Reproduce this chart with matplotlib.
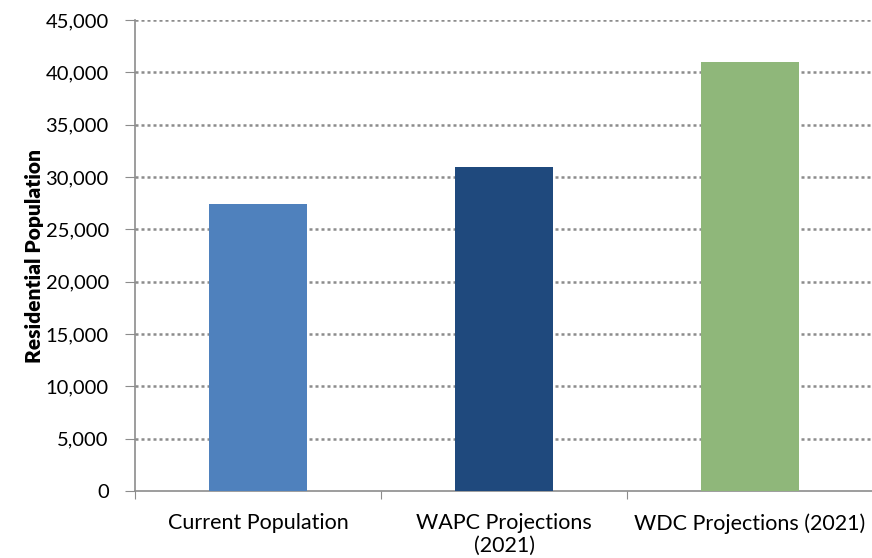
import matplotlib
matplotlib.use("Agg")
import matplotlib.pyplot as plt
from matplotlib.ticker import FuncFormatter, FixedLocator

# Data
categories = ["Current Population", "WAPC Projections\n(2021)", "WDC Projections (2021)"]
population = [27400, 31000, 41000]
bar_colors = ["#4F81BD", "#1F497D", "#8FB77A"]
y_ticks = list(range(0, 45001, 5000))

plt.rcParams["font.family"] = ["Lato", "DejaVu Sans"]

fig = plt.figure(figsize=(8.72, 5.58), dpi=100)
ax = fig.add_axes([0.155, 0.12, 0.846, 0.844])

x = list(range(len(categories)))
ax.bar(x, population, width=0.4, color=bar_colors, zorder=3)

ax.set_xlim(-0.5, len(categories) - 0.5)
ax.set_ylim(0, 45000)

# y axis
ax.yaxis.set_major_locator(FixedLocator(y_ticks))
ax.yaxis.set_major_formatter(FuncFormatter(lambda v, p: f"{int(v):,}"))
ax.tick_params(axis="y", labelsize=14.5, length=7, color="#8C8C8C", pad=12)
ax.set_ylabel("Residential Population", fontsize=15, fontweight="heavy")
ax.yaxis.set_label_coords(-0.124, 0.5)

# gridlines (skip 0, it sits on the axis)
for t in y_ticks[1:]:
    ax.axhline(t, color="#8C8C8C", linestyle=(0, (1.2, 1.2)), linewidth=1.8, zorder=1)

# x axis: ticks at category boundaries, labels centred
ax.xaxis.set_major_locator(FixedLocator([i - 0.5 for i in range(len(categories) + 1)]))
ax.xaxis.set_major_formatter(FuncFormatter(lambda v, p: ""))
ax.xaxis.set_minor_locator(FixedLocator(x))
ax.set_xticklabels(categories, minor=True, fontsize=15.5, linespacing=1.15)
ax.tick_params(axis="x", which="major", length=6, color="#8C8C8C")
ax.tick_params(axis="x", which="minor", length=0, pad=16)

for side in ["top", "right"]:
    ax.spines[side].set_visible(False)
for side in ["left", "bottom"]:
    ax.spines[side].set_color("#8C8C8C")
    ax.spines[side].set_linewidth(1.2)

fig.savefig("out.png", dpi=100)
